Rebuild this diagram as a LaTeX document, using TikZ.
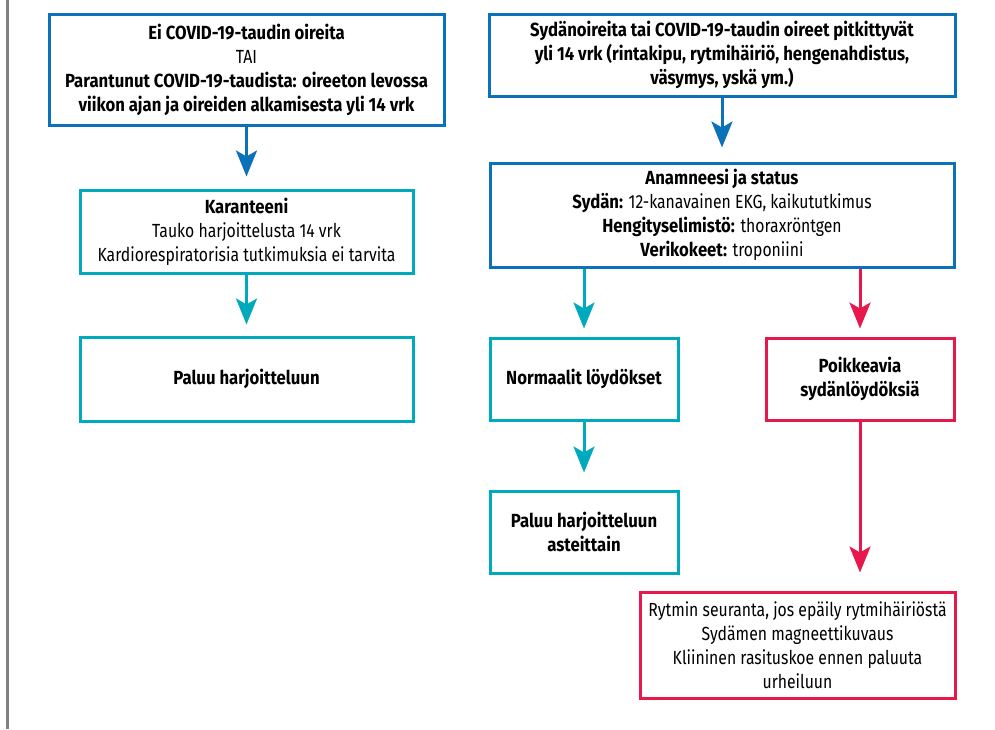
\documentclass[tikz,border=0pt]{standalone}
\usepackage{fontspec}
\setmainfont{Fira Sans}[FakeStretch=0.83]
\newfontfamily\bfam{Fira Sans}[FakeStretch=0.88]
\newcommand{\bx}[1]{{\bfam\bfseries #1}}
\usetikzlibrary{arrows.meta}
\definecolor{cblue}{HTML}{0B72B9}
\definecolor{ccyan}{HTML}{00AABD}
\definecolor{cred}{HTML}{E8184C}
\definecolor{cgray}{HTML}{808080}
\tikzset{
  box/.style={draw, line width=3pt, fill=white, align=center, inner sep=0pt,
    font=\fontsize{19}{24}\selectfont, anchor=center},
  bluebox/.style={box, draw=cblue},
  cyanbox/.style={box, draw=ccyan},
  redbox/.style={box, draw=cred},
  arr/.style={line width=3pt, -{Stealth[length=26pt, width=21pt, inset=6pt]}},
}
\begin{document}
\begin{tikzpicture}[x=1pt, y=-1pt]
\useasboundingbox (0,0) rectangle (995,729);
\coordinate (gtop) at (7.5,0);
\coordinate (gbot) at (7.5,729);
\draw[cgray, line width=2.5pt] (gtop) -- (gbot);

\node[bluebox, minimum width=395pt, minimum height=111pt] (b1) at (246.5,69.5)
  {\bx{Ei COVID-19-taudin oireita}\\TAI\\\bx{Parantunut COVID-19-taudista: oireeton levossa}\\\bx{viikon ajan ja oireiden alkamisesta yli 14 vrk}};
\node[bluebox, minimum width=466pt, minimum height=82pt] (b2) at (722,55)
  {\bx{Sydänoireita tai COVID-19-taudin oireet pitkittyvät}\\\bx{yli 14 vrk (rintakipu, rytmihäiriö, hengenahdistus,}\\\bx{väsymys, yskä ym.)}};
\node[cyanbox, minimum width=333pt, minimum height=83pt] (kar) at (246.5,231.5)
  {\bx{Karanteeni}\\Tauko harjoittelusta 14 vrk\\Kardiorespiratorisia tutkimuksia ei tarvita};
\node[cyanbox, minimum width=333pt, minimum height=84pt] (pal) at (246.5,379)
  {\bx{Paluu harjoitteluun}};
\node[bluebox, minimum width=464pt, minimum height=104pt] (anam) at (722,215)
  {\bx{Anamneesi ja status}\\\bx{Sydän:} 12-kanavainen EKG, kaikututkimus\\\bx{Hengityselimistö:} thoraxröntgen\\\bx{Verikokeet:} troponiini};
\node[cyanbox, minimum width=188pt, minimum height=82pt] (norm) at (584,379)
  {\bx{Normaalit löydökset}};
\node[redbox, minimum width=188pt, minimum height=82pt] (poik) at (860,379)
  {\bx{Poikkeavia}\\\bx{sydänlöydöksiä}};
\node[cyanbox, minimum width=188pt, minimum height=82pt] (ast) at (584,532)
  {\bx{Paluu harjoitteluun}\\\bx{asteittain}};
\node[redbox, minimum width=315pt, minimum height=106pt] (fin) at (797.5,645)
  {Rytmin seuranta, jos epäily rytmihäiriöstä\\Sydämen magneettikuvaus\\Kliininen rasituskoe ennen paluuta\\urheiluun};

\draw[arr, cblue, shorten >=12pt] (b1.south) -- (kar.north);
\draw[arr, ccyan, shorten >=11pt] (kar.south) -- (pal.north);
\draw[arr, cblue, shorten >=14pt] (b2.south) -- (anam.north);
\draw[arr, ccyan, shorten >=8pt] (anam.south -| norm.north) -- (norm.north);
\draw[arr, cred, shorten >=8pt] (anam.south -| poik.north) -- (poik.north);
\draw[arr, ccyan, shorten >=17pt] (norm.south) -- (ast.north);
\draw[arr, cred, shorten >=18pt] (poik.south) -- (poik.south |- fin.north);
\end{tikzpicture}
\end{document}
